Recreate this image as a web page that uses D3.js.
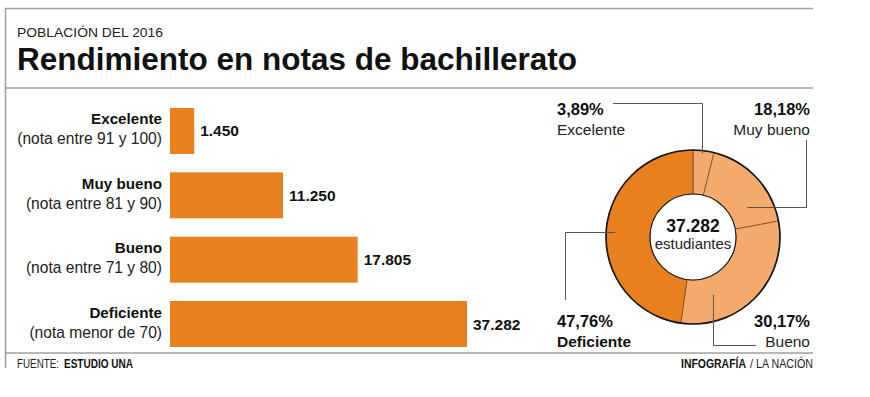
<!DOCTYPE html>
<html><head><meta charset="utf-8">
<script src="https://cdn.jsdelivr.net/npm/d3@7"></script>
<style>
html,body{margin:0;padding:0;background:#fff;}
svg{display:block;font-family:"Liberation Sans",Arial,sans-serif;}
</style></head>
<body><svg id="c" width="870" height="397"></svg>
<script>
// ---- data ----
const categories = ["Excelente", "Muy bueno", "Bueno", "Deficiente"];
const ranges = ["(nota entre 91 y 100)", "(nota entre 81 y 90)", "(nota entre 71 y 80)", "(nota menor de 70)"];
const barValues = [1450, 6777, 11250, 17805];
const barLabels = ["1.450", "11.250", "17.805", "37.282"];
const pieShares = [3.89, 18.18, 30.17, 47.76];
const pieLabels = ["3,89%", "18,18%", "30,17%", "47,76%"];
const totalLabel = "37.282";
const totalUnit = "estudiantes";

const svg = d3.select("#c");
const ORANGE = "#e9801f", PEACH = "#f3aa6c", LINE = "#a0a0a0";

// frame
svg.append("line").attr("x1",5).attr("x2",813).attr("y1",8.5).attr("y2",8.5).attr("stroke",LINE).attr("stroke-width",1.5);
svg.append("line").attr("x1",5.5).attr("x2",5.5).attr("y1",8).attr("y2",368).attr("stroke",LINE).attr("stroke-width",1.5);
svg.append("line").attr("x1",5).attr("x2",813).attr("y1",88).attr("y2",88).attr("stroke",LINE).attr("stroke-width",1.5);
svg.append("line").attr("x1",5).attr("x2",813).attr("y1",353).attr("y2",353).attr("stroke",LINE).attr("stroke-width",1.5);

// titles
svg.append("text").attr("x",17).attr("y",37).attr("font-size",13).attr("fill","#222")
  .attr("textLength",146).attr("lengthAdjust","spacingAndGlyphs").text("POBLACIÓN DEL 2016");
svg.append("text").attr("x",17).attr("y",70).attr("font-size",32).attr("font-weight","bold").attr("fill","#111")
  .attr("textLength",560).attr("lengthAdjust","spacingAndGlyphs").text("Rendimiento en notas de bachillerato");

// ---- bars ----
const x0 = 170;
const x = d3.scaleLinear().domain([0, d3.max(barValues)]).range([0, 297]);
const y = d3.scaleBand().domain(categories).range([108, 347]).paddingInner(0.285);

const g = svg.append("g");
categories.forEach((c, i) => {
  const yc = y(c) + y.bandwidth() / 2;
  g.append("rect").attr("x", x0).attr("y", y(c)).attr("width", x(barValues[i])).attr("height", y.bandwidth()).attr("fill", ORANGE);
  g.append("text").attr("x", x0 + x(barValues[i]) + 6).attr("y", yc + 5.5).attr("font-size", 15.5)
    .attr("font-weight", "bold").attr("fill", "#111").text(barLabels[i]);
  g.append("text").attr("x", 162).attr("y", yc - 6.5).attr("text-anchor", "end").attr("font-size", 15.2)
    .attr("font-weight", "bold").attr("fill", "#111").text(c);
  g.append("text").attr("x", 162).attr("y", yc + 13.5).attr("text-anchor", "end").attr("font-size", 15.6)
    .attr("fill", "#222").text(ranges[i]);
});

// ---- donut ----
const cx = 693, cy = 237, rIn = 43, rOut = 87;
const pie = d3.pie().sort(null).value(d => d)(pieShares);
const arc = d3.arc().innerRadius(rIn).outerRadius(rOut);
const dg = svg.append("g").attr("transform", `translate(${cx},${cy})`);
dg.selectAll("path.seg").data(pie).join("path").attr("class","seg").attr("d", arc)
  .attr("fill", (d, i) => i === 3 ? ORANGE : PEACH).attr("stroke", "#6b4420").attr("stroke-width", 0.7);
dg.append("circle").attr("r", rOut).attr("fill", "none").attr("stroke", "#1a1a1a").attr("stroke-width", 1.7);
dg.append("circle").attr("r", rIn).attr("fill", "#fff").attr("stroke", "#1a1a1a").attr("stroke-width", 1.2);
dg.append("text").attr("y", -5).attr("text-anchor", "middle").attr("font-size", 17.5).attr("font-weight", "bold").attr("fill", "#111").text(totalLabel);
dg.append("text").attr("y", 12).attr("text-anchor", "middle").attr("font-size", 15).attr("fill", "#222").text(totalUnit);

// leader anchors: fraction within segment and radius
const anchors = [{f:0.45, r:84}, {f:0.72, r:62}, {f:0.75, r:61}, {f:0.5, r:78}];
const pt = (i) => {
  const a = pie[i].startAngle + (pie[i].endAngle - pie[i].startAngle) * anchors[i].f;
  const p = d3.pointRadial(a, anchors[i].r);
  return [cx + p[0], cy + p[1]];
};
const lineG = svg.append("g").attr("fill","none").attr("stroke","#555").attr("stroke-width",1);
const lg = d3.line();
let p;
p = pt(0); lineG.append("path").attr("d", lg([[613, 103.5], [Math.round(p[0])+0.5, 103.5], [Math.round(p[0])+0.5, p[1]]]));
p = pt(1); lineG.append("path").attr("d", lg([[806.5, 140], [806.5, Math.round(p[1])+0.5], [p[0], Math.round(p[1])+0.5]]));
p = pt(2); lineG.append("path").attr("d", lg([[Math.round(p[0])+0.5, p[1]], [Math.round(p[0])+0.5, 345.5], [756, 345.5]]));
p = pt(3); lineG.append("path").attr("d", lg([[565.5, 300], [565.5, Math.round(p[1])+0.5], [p[0], Math.round(p[1])+0.5]]));

// donut labels
const lab = svg.append("g").attr("fill","#111");
const labPos = [{x:557, y:115, a:"start"}, {x:810, y:115, a:"end"}, {x:810, y:327, a:"end"}, {x:557, y:327, a:"start"}];
categories.forEach((c, i) => {
  const L = labPos[i];
  lab.append("text").attr("x", L.x).attr("y", L.y).attr("text-anchor", L.a).attr("font-size", 16.5).attr("font-weight","bold").text(pieLabels[i]);
  lab.append("text").attr("x", L.x).attr("y", L.y + 20).attr("text-anchor", L.a).attr("font-size", 15.5)
    .attr("font-weight", i === 3 ? "bold" : "normal").attr("fill", i === 3 ? "#111" : "#222").text(c);
});

// footer
const ft = (tx, xx, w, bold, anchor) => svg.append("text").attr("x", xx).attr("y", 367.5).attr("font-size", 12)
  .attr("text-anchor", anchor).attr("font-weight", bold ? "bold" : "normal").attr("fill", bold ? "#111" : "#222")
  .attr("textLength", w).attr("lengthAdjust", "spacingAndGlyphs").text(tx);
ft("FUENTE:", 17, 42, false, "start");
ft("ESTUDIO UNA", 64, 69, true, "start");
ft("INFOGRAFÍA", 681, 65, true, "start");
ft("/ LA NACIÓN", 813, 63, false, "end");
// bottom crop
svg.append("rect").attr("x",0).attr("y",369).attr("width",870).attr("height",28).attr("fill","#fff");
</script></body></html>
